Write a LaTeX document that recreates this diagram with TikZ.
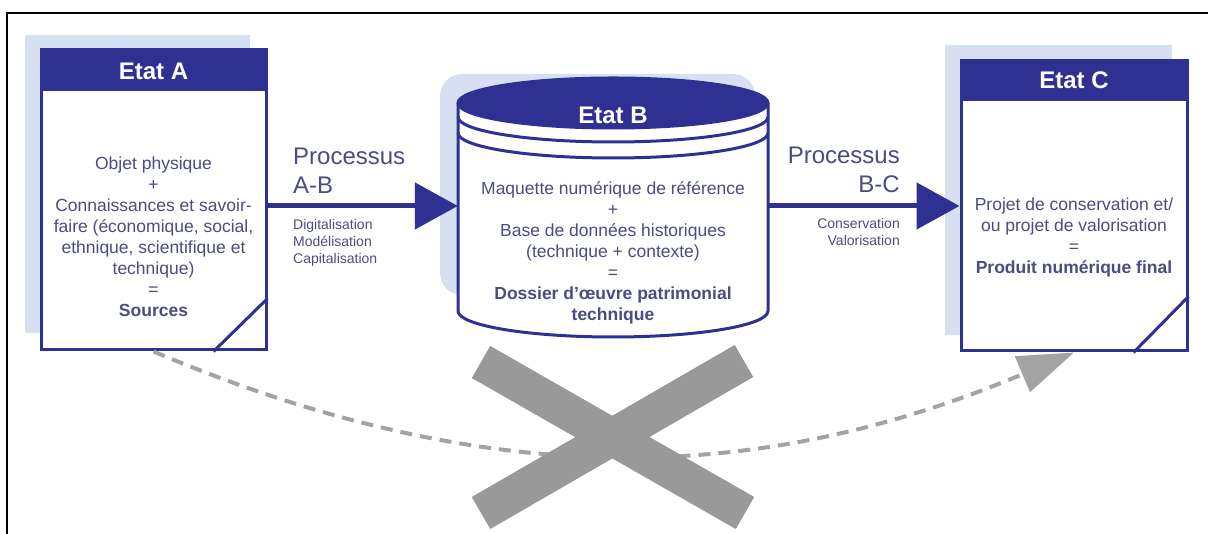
\documentclass[tikz,border=0pt]{standalone}
\usepackage{fontspec}
\setmainfont{Liberation Sans}
\usetikzlibrary{arrows.meta,calc,positioning}
\definecolor{navy}{RGB}{46,49,146}
\definecolor{ink}{RGB}{76,76,130}
\definecolor{pale}{RGB}{214,224,240}
\definecolor{cross}{RGB}{153,153,153}
\definecolor{dashgray}{RGB}{163,163,163}

\begin{document}
\begin{tikzpicture}[x=1pt,y=1pt,
  statebox/.style={draw=navy, line width=3pt, fill=white, inner sep=0pt},
  headtext/.style={text=white, font=\bfseries\fontsize{24}{27}\selectfont},
  bodytext/.style={text=ink, align=center, font=\fontsize{17.5}{21}\selectfont},
  proctitle/.style={text=ink, inner sep=0pt, font=\fontsize{24}{29}\selectfont},
  procsub/.style={text=ink, inner sep=0pt, font=\fontsize{14}{17}\selectfont},
  flow/.style={navy, line width=5pt, -{Triangle[length=43pt,width=46pt]}},
  dashflow/.style={dashgray, line width=4pt, dash pattern=on 12pt off 8pt, -{Triangle[length=56pt,width=38pt]}}]
\useasboundingbox (0,0) rectangle (1208,534);
\draw[line width=2pt] (7,0) -- (7,521) -- (1208,521);

% Etat A
\fill[pale] (25,201) rectangle (250,499);
\node[statebox, minimum width=225pt, minimum height=300pt] (etatA) at (153.5,334) {};
\fill[navy] (etatA.north west) rectangle ($(etatA.north east)+(0,-43)$);
\node[headtext] (titreA) at (153.5,463) {Etat A};
\draw[navy, line width=3pt] ($(etatA.south east)+(0,53)$) -- ($(etatA.south east)+(-54,0)$);
\node[bodytext] (texteA) at (153.5,297) {Objet physique\\+\\Connaissances et savoir-\\faire (économique, social,\\ethnique, scientifique et\\technique)\\=\\\textbf{Sources}};

% Etat B
\fill[pale, rounded corners=22pt] (440,239) rectangle (755,460);
\draw[navy, line width=3pt, fill=white] (458,431) -- (458,223)
  arc[start angle=180, end angle=360, x radius=155pt, y radius=26pt] -- (768,431);
\filldraw[navy, line width=3pt] (613,431) ellipse[x radius=155pt, y radius=25pt];
\draw[navy, line width=3pt] (458,417) arc[start angle=180, end angle=360, x radius=155pt, y radius=25pt];
\draw[navy, line width=3pt] (458,401) arc[start angle=180, end angle=360, x radius=155pt, y radius=25pt];
\node[minimum width=310pt, minimum height=10pt, inner sep=0pt] (etatB) at (613,328) {};
\node[headtext] (titreB) at (613,419) {Etat B};
\node[bodytext] (texteB) at (613,281.5) {Maquette numérique de référence\\+\\Base de données historiques\\(technique + contexte)\\=\\\textbf{Dossier d’œuvre patrimonial}\\\textbf{technique}};

% Etat C
\fill[pale] (945,199) rectangle (1172,489);
\node[statebox, minimum width=226pt, minimum height=290pt] (etatC) at (1074,328) {};
\fill[navy] (etatC.north west) rectangle ($(etatC.north east)+(0,-42)$);
\node[headtext] (titreC) at (1074,454) {Etat C};
\draw[navy, line width=3pt] ($(etatC.south east)+(0,56)$) -- ($(etatC.south east)+(-55,0)$);
\node[bodytext] (texteC) at (1074,297) {Projet de conservation et/\\ou projet de valorisation\\=\\\textbf{Produit numérique final}};

% processus
\draw[flow] (etatA.east |- etatB.west) -- (etatB.west);
\draw[flow] (etatB.east) -- (etatB.east -| etatC.west);
\node[proctitle, align=left, anchor=west] (procAB) at (293,363) {Processus\\A-B};
\node[procsub, align=left, anchor=west] (sousAB) at (293,291) {Digitalisation\\Modélisation\\Capitalisation};
\node[proctitle, align=right, anchor=east] (procBC) at (900,364) {Processus\\B-C};
\node[procsub, align=right, anchor=east] (sousBC) at (900,301.5) {Conservation\\Valorisation};

% raccourci barre
\draw[dashflow] (etatA.south) .. controls (480,45) and (750,45) .. (etatC.south);
\draw[cross, line width=37pt] (481,172) -- (745,21);
\draw[cross, line width=37pt] (744,173) -- (481,21);
\end{tikzpicture}
\end{document}
